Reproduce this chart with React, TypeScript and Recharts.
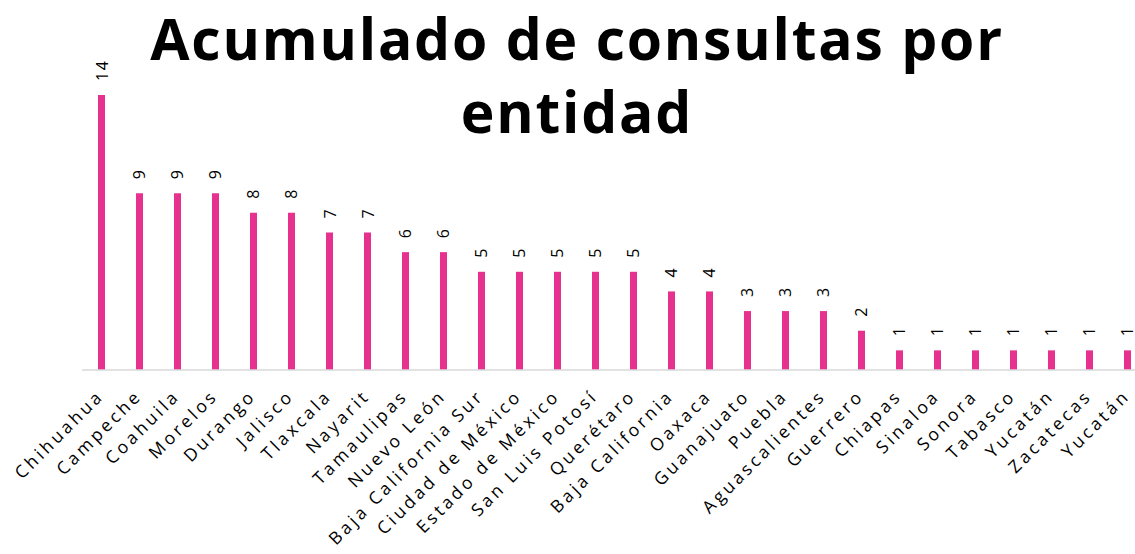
import React from 'react';
import { BarChart, Bar, XAxis, YAxis, LabelList } from 'recharts';

const entidades = [
  'Chihuahua', 'Campeche', 'Coahuila', 'Morelos', 'Durango', 'Jalisco', 'Tlaxcala',
  'Nayarit', 'Tamaulipas', 'Nuevo León', 'Baja California Sur', 'Ciudad de México',
  'Estado de México', 'San Luis Potosí', 'Querétaro', 'Baja California', 'Oaxaca',
  'Guanajuato', 'Puebla', 'Aguascalientes', 'Guerrero', 'Chiapas', 'Sinaloa', 'Sonora',
  'Tabasco', 'Yucatán', 'Zacatecas', 'Yucatán'
];

const consultas = [14, 9, 9, 9, 8, 8, 7, 7, 6, 6, 5, 5, 5, 5, 5, 4, 4, 3, 3, 3, 2, 1, 1, 1, 1, 1, 1, 1];

const data = entidades.map((name, i) => ({ id: i, name, value: consultas[i] }));

const FONT = '"Open Sans", sans-serif';

function AngledTick(props: any) {
  const { x, y, payload } = props;
  const label = entidades[payload.value];
  const tx = x + 4;
  const ty = y + 19;
  return (
    <text
      x={tx}
      y={ty}
      transform={`rotate(-45, ${tx}, ${ty})`}
      textAnchor="end"
      fontFamily={FONT}
      fontSize={17.5}
      letterSpacing={3.2}
      fill="#000"
    >
      {label}
    </text>
  );
}

function ValueLabel(props: any) {
  const { x, y, width, value } = props;
  const cx = x + width / 2;
  const ty = y - 14;
  return (
    <text
      x={cx}
      y={ty}
      transform={`rotate(-90, ${cx}, ${ty})`}
      textAnchor="start"
      dominantBaseline="central"
      fontFamily={FONT}
      fontSize={16}
      letterSpacing={1.5}
      fill="#000"
    >
      {value}
    </text>
  );
}

export default function App() {
  return (
    <div style={{ position: 'fixed', top: 0, left: 0, width: 1135, height: 554, overflow: 'hidden', background: '#fff' }}>
      <div
        style={{
          position: 'absolute',
          top: 2,
          left: 77,
          width: 1000,
          textAlign: 'center',
          fontFamily: FONT,
          fontWeight: 700,
          fontSize: 57,
          lineHeight: '73px',
          letterSpacing: 1.8,
          color: '#000'
        }}
      >
        Acumulado de consultas por
        <br />
        entidad
      </div>
      <BarChart
        width={1146}
        height={554}
        data={data}
        margin={{ top: 95, right: 0, bottom: 0, left: 82 }}
        barCategoryGap={0}
      >
        <XAxis
          dataKey="id"
          type="category"
          height={184}
          interval={0}
          tick={<AngledTick />}
          tickLine={false}
          axisLine={{ stroke: '#D9D9D9', strokeWidth: 1.5 }}
        />
        <YAxis hide domain={[0, 14]} />
        <Bar dataKey="value" fill="#E6318F" barSize={7} isAnimationActive={false}>
          <LabelList dataKey="value" content={<ValueLabel />} />
        </Bar>
      </BarChart>
    </div>
  );
}
